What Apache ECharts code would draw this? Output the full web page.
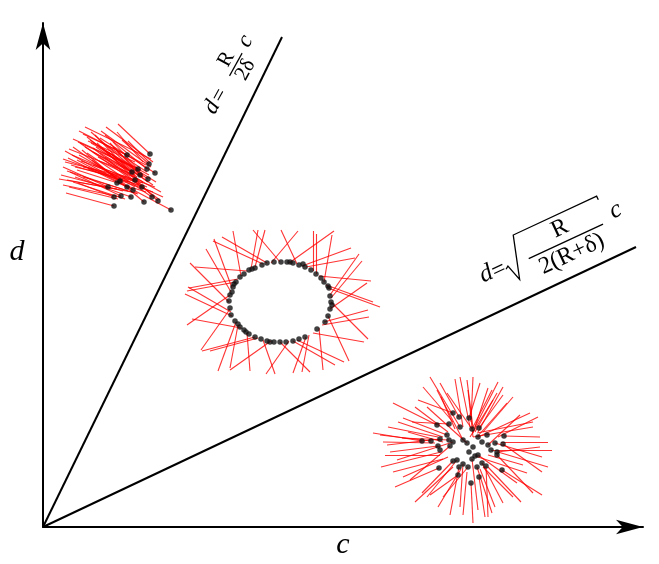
<!DOCTYPE html>
<html>
<head>
<meta charset="utf-8">
<script src="https://cdn.jsdelivr.net/npm/echarts@6/dist/echarts.min.js"></script>
<style>html,body{margin:0;padding:0;background:#fff}#main{width:659px;height:564px}</style>
</head>
<body>
<div id="main"></div>
<script>
// ---- data (units: c along x, d along y, origin at 0) ----
const axisMax = { c: 600, d: 504 };
const boundaryLine1 = [[0, 0], [239, 490]];   // d = R/(2δ) c
const boundaryLine2 = [[0, 0], [593, 280]];   // d = sqrt(R/(2(R+δ))) c

const cluster1Points = [
  [107,373],[84,372],[106,363],[112,354],[104,358],[95,358],[105,348],[99,340],
  [90,337],[84,340],[78,331],[71,330],[88,330],[101,325],[109,330],[115,326],
  [128,317],[71,321],[65,340],[74,344],[92,347],[77,346],[97,352],[89,355]
];
const cluster1Segments = [
  [75,403,107,373],[85,386,107,364],[40,393,84,372],[16,348,74,338],[23,334,71,321],
  [22,376,74,347],[20,360,65,340],[62,392,104,358],[47,387,105,348],[30,380,90,337],
  [25,369,84,340],[34,367,128,317],[27,355,78,331],[39,377,101,325],[54,384,115,326],
  [57,389,112,354],[44,374,109,330],[32,350,88,330],[35,344,71,330],[50,379,99,340],
  [40,360,92,347],[67,384,97,352],[49,367,77,346],[57,374,89,355],[79,387,106,363],
  [70,385,95,358],[29,372,104,340],[37,384,117,327],[24,347,94,334],[44,390,94,350],
  [32,360,100,344],[22,365,84,350],
  [18,352,80,336],[20,368,86,345],[26,378,92,352],[30,388,98,357],[36,396,103,362],
  [42,400,108,368],[48,395,100,350],[52,392,96,346],[58,396,108,360],[63,400,110,365],
  [28,362,96,342],[34,357,103,335],[38,366,112,340],[24,356,85,336],[30,345,82,328],
  [40,350,95,333],[45,358,110,335],[50,362,120,330],[55,370,118,335],[60,378,113,345],
  [65,375,105,345],[70,380,100,352],[36,372,92,340],[42,380,100,345],[48,384,106,352],
  [53,380,110,342],[58,385,104,355],[62,370,99,350],[20,342,78,330],[26,340,75,328],
  [35,385,90,360],[45,386,92,365],[50,375,86,356],[56,366,90,350],[74,395,100,365]
];

const cluster2Points = [
  [288,225],[287,231],[286,239],[281,245],[278,249],[273,253],[268,257],[262,260],
  [256,262],[250,264],[244,265],[238,265],[231,265],[224,264],[219,262],[212,259],
  [206,257],[201,253],[197,250],[193,245],[190,240],[187,232],[186,226],[187,219],
  [188,212],[192,206],[197,200],[201,197],[206,193],[212,190],[218,188],[224,186],
  [231,185],[237,185],[243,185],[250,186],[256,188],[262,190],[274,198],[282,205],
  [285,211],[287,218],[289,222],[285,241],[191,243],[189,235],[195,203],[203,195],
  [227,185],[260,263],[247,265],[209,258]
];
const cluster2Segments = [
  [288,225,325,188],[287,232,316,273],[285,239,337,220],[281,245,289,292],[276,251,328,246],
  [270,256,270,296],[263,260,312,269],[254,263,238,297],[246,264,291,296],[237,265,210,297],
  [228,264,255,296],[220,263,170,286],[212,260,222,297],[204,256,152,260],[198,251,190,296],
  [193,245,144,236],[189,239,171,288],[187,232,144,202],[186,225,147,264],[187,218,158,177],
  [189,211,142,233],[193,205,175,156],[198,199,149,208],[204,194,207,156],[212,190,159,176],
  [220,187,232,153],[228,186,187,157],[237,185,267,155],[246,186,223,153],[254,187,301,165],
  [263,190,250,154],[270,194,321,185],[276,199,280,157],[281,205,325,217],[285,211,306,166],
  [287,218,324,244],
  [288,229,319,266],[283,242,330,225],[273,253,273,293],[259,261,308,279],[224,264,179,290],
  [208,258,215,297],[195,248,146,239],[188,235,163,278],[188,215,145,240],[195,202,187,159],
  [215,189,167,176],[250,186,292,162],[266,192,259,155],[279,202,326,210]
];

const cluster3Points = [
  [410,114],[416,110],[394,102],[406,103],[417,100],[426,109],[429,98],[436,99],
  [379,86],[388,86],[397,88],[404,92],[406,87],[410,85],[420,87],[424,84],
  [430,80],[439,85],[445,82],[448,77],[454,75],[460,83],[461,91],[452,84],
  [397,77],[395,81],[407,81],[426,75],[432,71],[435,72],[429,68],[410,66],
  [414,67],[416,60],[420,63],[425,60],[434,60],[439,64],[443,61],[396,59],
  [415,52],[436,50],[428,44],[459,57],[454,72],[444,92],[435,90]
];
const cluster3Segments = [
  [387,150,417,100],[397,144,416,110],[404,134,429,98],[417,150,427,100],[424,147,430,99],
  [425,137,430,90],[445,139,430,94],[449,137,429,98],[450,127,427,90],[454,134,432,95],
  [460,132,436,99],[464,124,434,90],[490,105,434,94],[490,100,430,90],[487,114,435,90],
  [509,77,448,77],[497,80,454,75],[499,55,460,83],[499,70,452,84],[499,32,459,57],
  [490,34,454,72],[460,24,439,64],[449,14,434,60],[445,10,443,61],[442,10,436,50],
  [430,4,428,44],[417,20,420,63],[407,12,416,60],[387,32,415,52],[384,30,414,67],
  [379,34,410,66],[352,40,396,59],[342,72,397,72],[347,75,395,81],[330,94,379,86],
  [337,92,388,86],[350,124,394,102],[360,109,404,92],[369,105,406,103],[375,127,410,114],
  [344,82,397,88],[359,89,406,87],[400,30,425,60],[435,17,429,68],[474,44,435,72],
  [477,112,445,82],[497,90,461,91],[394,137,420,87],[384,120,424,84],[437,144,426,109],
  [367,47,407,81],[484,54,432,71],[354,67,410,85],
  [372,120,405,95],[355,105,400,90],[340,85,392,84],[338,60,398,75],[360,50,405,70],
  [372,25,410,60],[395,20,418,58],[420,12,424,55],[452,20,437,58],[470,30,440,60],
  [480,62,445,72],[505,85,458,85],[495,110,455,90],[470,130,440,95],[455,145,432,100],
  [412,148,420,100],[398,130,412,98],[365,95,400,85],[350,55,400,68],[478,25,445,60],
  [505,60,455,75],[460,140,435,95],[430,150,428,105],[380,140,410,105],[345,100,395,90]
];

// ---- chart ----
const chart = echarts.init(document.getElementById('main'), null, { renderer: 'canvas' });
const toLines = segs => segs.map(s => ({ coords: [[s[0], s[1]], [s[2], s[3]]] }));
const serifFont = "'Liberation Serif', 'DejaVu Serif', serif";
const redStyle = { color: '#ff0000', width: 1.1, opacity: 0.8 };
const dotStyle = { color: '#111' };

const axisCommon = {
  type: 'value',
  splitLine: { show: false },
  axisTick: { show: false },
  axisLabel: { show: false },
  axisLine: {
    show: true,
    symbol: ['none', 'arrow'],
    symbolSize: [11, 27],
    lineStyle: { color: '#000', width: 2 }
  }
};

chart.setOption({
  animation: false,
  backgroundColor: '#fff',
  grid: { left: 43, right: 16, top: 23, bottom: 37 },
  xAxis: Object.assign({}, axisCommon, { min: 0, max: axisMax.c }),
  yAxis: Object.assign({}, axisCommon, { min: 0, max: axisMax.d }),
  series: [
    { type: 'line', data: boundaryLine1, symbol: 'none', lineStyle: { color: '#000', width: 2 }, silent: true },
    { type: 'line', data: boundaryLine2, symbol: 'none', lineStyle: { color: '#000', width: 2 }, silent: true },
    { type: 'lines', coordinateSystem: 'cartesian2d', data: toLines(cluster1Segments), lineStyle: redStyle, silent: true },
    { type: 'lines', coordinateSystem: 'cartesian2d', data: toLines(cluster2Segments), lineStyle: redStyle, silent: true },
    { type: 'lines', coordinateSystem: 'cartesian2d', data: toLines(cluster3Segments), lineStyle: redStyle, silent: true },
    { type: 'scatter', data: cluster1Points, symbolSize: 5.5, itemStyle: dotStyle, z: 5 },
    { type: 'scatter', data: cluster2Points, symbolSize: 5.5, itemStyle: dotStyle, z: 5 },
    { type: 'scatter', data: cluster3Points, symbolSize: 5.5, itemStyle: dotStyle, z: 5 }
  ],
  graphic: [
    { type: 'text', x: 17, y: 252, style: { text: 'd', font: 'italic 30px ' + serifFont, fill: '#000', align: 'center', verticalAlign: 'middle' } },
    { type: 'text', x: 343, y: 545, style: { text: 'c', font: 'italic 30px ' + serifFont, fill: '#000', align: 'center', verticalAlign: 'middle' } },
    {
      type: 'group', x: 230, y: 75, rotation: 61 * Math.PI / 180,
      children: [
        { type: 'text', x: -37, y: 0, style: { text: 'd', font: 'italic 23px ' + serifFont, fill: '#000', align: 'center', verticalAlign: 'middle' } },
        { type: 'text', x: -23, y: 1, style: { text: '=', font: '22px ' + serifFont, fill: '#000', align: 'center', verticalAlign: 'middle' } },
        { type: 'text', x: 12, y: -11, style: { text: 'R', font: '21px ' + serifFont, fill: '#000', align: 'center', verticalAlign: 'middle' } },
        { type: 'line', shape: { x1: -1, y1: 0, x2: 25, y2: 0 }, style: { stroke: '#000', lineWidth: 1.2 } },
        { type: 'text', x: 12, y: 11, style: { text: '2δ', font: '21px ' + serifFont, fill: '#000', align: 'center', verticalAlign: 'middle' } },
        { type: 'text', x: 37, y: -3, style: { text: 'c', font: 'italic 23px ' + serifFont, fill: '#000', align: 'center', verticalAlign: 'middle' } }
      ]
    },
    {
      type: 'group', x: 551, y: 245, rotation: 25 * Math.PI / 180,
      children: [
        { type: 'text', x: -71, y: -1, style: { text: 'd', font: 'italic 25px ' + serifFont, fill: '#000', align: 'center', verticalAlign: 'middle' } },
        { type: 'text', x: -58, y: 1, style: { text: '=', font: '24px ' + serifFont, fill: '#000', align: 'center', verticalAlign: 'middle' } },
        { type: 'polyline', shape: { points: [[-51, 3], [-48, 1], [-43, 18], [-30, -25], [62, -25], [62, -21]] }, style: { stroke: '#000', lineWidth: 1.3, fill: null } },
        { type: 'text', x: 15, y: -11, style: { text: 'R', font: '24px ' + serifFont, fill: '#000', align: 'center', verticalAlign: 'middle' } },
        { type: 'line', shape: { x1: -26, y1: 3, x2: 56, y2: 3 }, style: { stroke: '#000', lineWidth: 1.3 } },
        { type: 'text', x: 15, y: 17, style: { text: '2(R+δ)', font: '24px ' + serifFont, fill: '#000', align: 'center', verticalAlign: 'middle' } },
        { type: 'text', x: 73, y: -4, style: { text: 'c', font: 'italic 25px ' + serifFont, fill: '#000', align: 'center', verticalAlign: 'middle' } }
      ]
    }
  ]
});
</script>
</body>
</html>
